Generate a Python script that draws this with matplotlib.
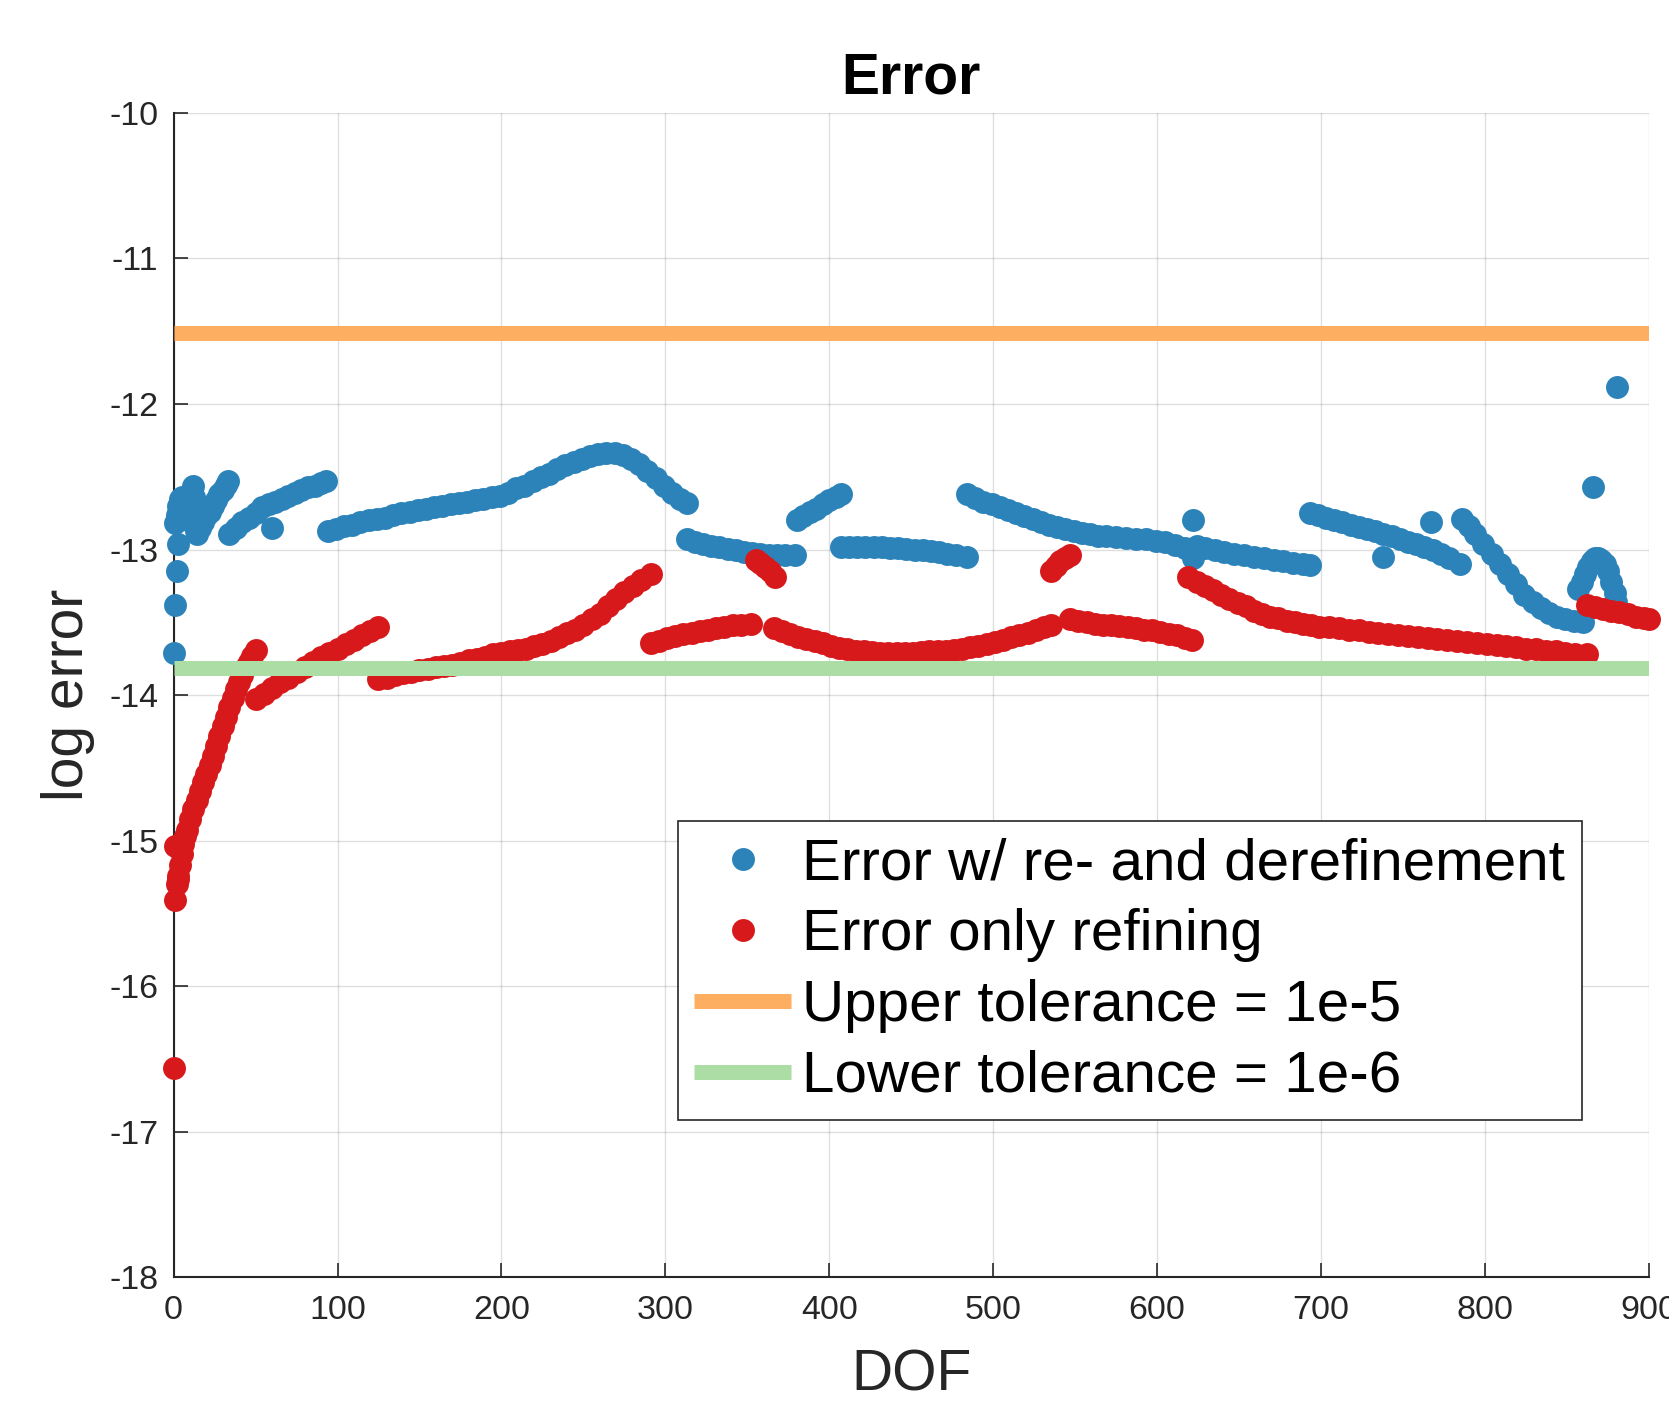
import matplotlib
matplotlib.use("Agg")
import matplotlib.pyplot as plt
import numpy as np

# ---------------- data ----------------
blue_dof = [0, 1, 2, 3,
            1, 2, 3, 4, 5, 6, 7, 8, 9, 10, 11, 12, 12.4, 12.8, 13.2, 13.6,
            14, 16, 18, 20, 22, 24, 26, 28, 30, 32, 33.5,
            34, 38, 42, 46, 50, 54, 58, 62, 66, 70, 74, 78, 82, 86, 90, 93,
            60,
            94, 99, 104, 109, 114, 119, 124, 129, 134, 139, 144, 149, 154, 159, 164, 169,
            174, 179, 184, 189, 194, 199, 204, 209, 214, 219, 224, 229, 234, 239, 244, 249,
            254, 259, 264, 269, 274, 279, 284, 289, 294, 299, 304, 309, 313,
            313, 318, 323, 328, 333, 338, 343, 348, 353, 358, 363, 368, 373, 379,
            380, 384, 388, 392, 396, 400, 404, 407,
            407, 412, 417, 422, 427, 432, 437, 442, 447, 452, 457, 462, 467, 472, 477, 484,
            484, 489, 494, 499, 504, 509, 514, 519, 524, 529, 534, 539, 544, 549, 554, 559,
            564, 569, 575, 581, 587, 593, 599, 605, 611, 617, 622,
            624, 629, 635, 641, 647, 653, 659, 665, 671, 677, 683, 689, 693,
            622, 622, 738, 767, 866, 880.5,
            693, 698, 703, 708, 713, 718, 723, 728, 733, 738, 743, 748, 753, 758, 763, 768,
            773, 778, 785,
            786, 790, 794, 799, 804, 809, 814, 819, 824, 829, 834, 839, 844, 849, 854, 860,
            857, 859, 861, 863, 865, 867, 869, 871, 873, 875, 877, 879, 880]
blue_err = [-13.71, -13.38, -13.15, -12.96,
            -12.82, -12.76, -12.70, -12.65, -12.64, -12.68, -12.73, -12.78, -12.80, -12.70,
            -12.60, -12.56, -12.64, -12.72, -12.80, -12.87,
            -12.89, -12.85, -12.81, -12.77, -12.74, -12.70, -12.66, -12.62, -12.59, -12.555, -12.53,
            -12.89, -12.85, -12.81, -12.78, -12.75, -12.71, -12.69, -12.67, -12.65, -12.63,
            -12.61, -12.59, -12.57, -12.56, -12.54, -12.53,
            -12.85,
            -12.87, -12.86, -12.84, -12.83, -12.81, -12.80, -12.79, -12.78, -12.76, -12.75,
            -12.74, -12.73, -12.72, -12.71, -12.70, -12.69, -12.68, -12.67, -12.66, -12.65,
            -12.64, -12.63, -12.61, -12.58, -12.56, -12.53, -12.50, -12.48, -12.45, -12.42,
            -12.40, -12.38, -12.36, -12.345, -12.335, -12.335, -12.35, -12.375, -12.41, -12.46,
            -12.51, -12.56, -12.61, -12.655, -12.68,
            -12.93, -12.945, -12.96, -12.975, -12.985, -12.995, -13.005, -13.015, -13.025,
            -13.03, -13.035, -13.035, -13.04, -13.04,
            -12.80, -12.77, -12.74, -12.72, -12.69, -12.66, -12.64, -12.62,
            -12.98, -12.98, -12.98, -12.98, -12.985, -12.985, -12.99, -12.99, -12.995, -13.00,
            -13.005, -13.01, -13.02, -13.03, -13.04, -13.05,
            -12.62, -12.645, -12.67, -12.69, -12.71, -12.73, -12.75, -12.77, -12.79, -12.81,
            -12.83, -12.845, -12.86, -12.87, -12.885, -12.895, -12.905, -12.91, -12.915, -12.92,
            -12.925, -12.93, -12.94, -12.95, -12.97, -12.99, -13.00,
            -12.975, -12.99, -13.005, -13.02, -13.03, -13.04, -13.05, -13.06, -13.07, -13.08,
            -13.09, -13.10, -13.105,
            -12.80, -13.06, -13.05, -12.81, -12.57, -11.88,
            -12.75, -12.765, -12.78, -12.795, -12.81, -12.83, -12.845, -12.86, -12.875, -12.89,
            -12.91, -12.93, -12.95, -12.965, -12.98, -13.00, -13.03, -13.06, -13.10,
            -12.79, -12.84, -12.89, -12.96, -13.03, -13.10, -13.17, -13.24, -13.31, -13.36,
            -13.40, -13.435, -13.46, -13.48, -13.49, -13.50,
            -13.27, -13.22, -13.17, -13.12, -13.08, -13.06, -13.06, -13.07, -13.10, -13.15,
            -13.22, -13.30, -13.36]

red_dof = [0, 1, 1, 3,
           2, 3, 4, 5, 6, 7, 8, 10, 12, 14, 16, 18, 20, 22, 24, 26, 28, 30, 32, 34, 36, 38,
           40, 42, 44, 46, 48, 50,
           50, 55, 60, 65, 70, 75, 80, 85, 90, 95, 100, 105, 110, 115, 120, 125,
           125, 130, 135, 140, 145, 150, 155, 160, 165, 170, 175, 180, 185, 190, 195, 200,
           205, 210, 215, 220, 225, 230, 235, 240, 245, 250, 255, 260, 265, 270, 275, 280,
           285, 291,
           291, 296, 301, 306, 311, 316, 321, 326, 331, 336, 341, 346, 352,
           355, 358, 361, 364, 367,
           366, 371, 376, 381, 386, 391, 396, 401, 406, 411, 416, 421, 426, 431, 436, 441,
           446, 451, 456, 461, 466, 471, 476, 481, 486, 491, 496, 501, 506, 511, 516, 521,
           526, 531, 535,
           535, 538, 541, 544, 547,
           547, 552, 557, 562, 567, 572, 577, 582, 587, 592, 597, 602, 607, 612, 617, 621,
           619, 624, 629, 634, 639, 644, 649, 654, 659, 664, 669, 674, 679, 684, 689, 694,
           699, 705, 711, 717, 723, 729, 735, 741, 747, 753, 759, 765, 771, 777, 783, 789,
           795, 801, 807, 813, 819, 825, 831, 837, 843, 849, 855, 862,
           862, 867, 872, 877, 882, 887, 892, 897, 900]
red_err = [-16.56, -15.41, -15.04, -15.26,
           -15.30, -15.24, -15.17, -15.09, -15.02, -14.97, -14.93, -14.85, -14.78, -14.72,
           -14.66, -14.60, -14.54, -14.48, -14.42, -14.35, -14.28, -14.21, -14.15, -14.08,
           -14.02, -13.96, -13.91, -13.86, -13.81, -13.77, -13.73, -13.69,
           -14.03, -13.99, -13.95, -13.91, -13.88, -13.84, -13.81, -13.77, -13.74, -13.71,
           -13.68, -13.65, -13.62, -13.59, -13.56, -13.53,
           -13.89, -13.88, -13.86, -13.85, -13.84, -13.83, -13.82, -13.81, -13.80, -13.79,
           -13.78, -13.76, -13.75, -13.74, -13.72, -13.71, -13.70, -13.69, -13.68, -13.665,
           -13.65, -13.625, -13.60, -13.575, -13.55, -13.52, -13.48, -13.44, -13.39, -13.34,
           -13.29, -13.25, -13.21, -13.17,
           -13.64, -13.625, -13.61, -13.595, -13.58, -13.57, -13.56, -13.55, -13.54, -13.53,
           -13.52, -13.515, -13.51,
           -13.07, -13.09, -13.12, -13.15, -13.19,
           -13.54, -13.56, -13.58, -13.60, -13.615, -13.63, -13.645, -13.66, -13.675, -13.685,
           -13.695, -13.70, -13.705, -13.71, -13.71, -13.71, -13.71, -13.71, -13.705, -13.70,
           -13.70, -13.695, -13.69, -13.68, -13.67, -13.66, -13.65, -13.635, -13.62, -13.60,
           -13.585, -13.57, -13.55, -13.535, -13.52,
           -13.15, -13.11, -13.08, -13.06, -13.04,
           -13.48, -13.49, -13.50, -13.51, -13.515, -13.52, -13.525, -13.53, -13.54, -13.55,
           -13.555, -13.565, -13.58, -13.59, -13.605, -13.62,
           -13.19, -13.22, -13.25, -13.28, -13.31, -13.34, -13.37, -13.39, -13.42, -13.44,
           -13.46, -13.47, -13.49, -13.50, -13.51, -13.52, -13.53, -13.535, -13.54, -13.55,
           -13.555, -13.565, -13.57, -13.58, -13.585, -13.595, -13.60, -13.61, -13.615, -13.62,
           -13.63, -13.635, -13.645, -13.65, -13.655, -13.665, -13.67, -13.68, -13.685, -13.695,
           -13.70, -13.71, -13.715, -13.72,
           -13.38, -13.395, -13.41, -13.42, -13.43, -13.445, -13.46, -13.47, -13.48]

upper_tol = 1e-5
lower_tol = 1e-6
x_range = [0, 900]
x_ticks = [0, 100, 200, 300, 400, 500, 600, 700, 800, 900]
y_ticks = [-18, -17, -16, -15, -14, -13, -12, -11, -10]
labels = ["Error w/ re- and derefinement", "Error only refining",
          "Upper tolerance = 1e-5", "Lower tolerance = 1e-6"]

# ---------------- style ----------------
BLUE = "#2b83ba"
RED = "#d7191c"
ORANGE = "#fdae61"
GREEN = "#abdda4"
DARK = "#262626"

plt.rcParams['font.family'] = ['Liberation Sans', 'DejaVu Sans']
plt.rcParams['axes.unicode_minus'] = False

fig = plt.figure(figsize=(16.69, 14.02), dpi=100)
ax = fig.add_axes([0.104, 0.0889, 0.884, 0.8306])

ax.plot(blue_dof, blue_err, 'o', color=BLUE, ms=16.5, mew=0, clip_on=False,
        zorder=3, label=labels[0])
ax.plot(red_dof, red_err, 'o', color=RED, ms=16.5, mew=0, clip_on=False,
        zorder=4, label=labels[1])
ax.plot(x_range, [np.log(upper_tol)] * 2, '-', color=ORANGE, lw=10.8,
        solid_capstyle='butt', zorder=5, label=labels[2])
ax.plot(x_range, [np.log(lower_tol)] * 2, '-', color=GREEN, lw=10.8,
        solid_capstyle='butt', zorder=5, label=labels[3])

ax.set_xlim(0, 900)
ax.set_ylim(-18, -10)
ax.set_xticks(x_ticks)
ax.set_yticks(y_ticks)
ax.grid(True, color=DARK, alpha=0.15, lw=1.0)
ax.set_axisbelow(True)

for s in ['top', 'right']:
    ax.spines[s].set_visible(False)
for s in ['left', 'bottom']:
    ax.spines[s].set_color(DARK)
    ax.spines[s].set_linewidth(1.5)

ax.tick_params(direction='in', length=10, width=1.2, color=DARK,
               labelsize=24.5, labelcolor=DARK)
ax.tick_params(axis='y', pad=11)
ax.tick_params(axis='x', pad=13)

ax.set_title("Error", fontsize=41, fontweight='bold', pad=14)
ax.set_xlabel("DOF", fontsize=41, color=DARK, labelpad=16)
ax.set_ylabel("log error", fontsize=41, color=DARK, labelpad=10)

leg = ax.legend(loc='upper left', bbox_to_anchor=(0.342, 0.392),
                borderaxespad=0, fontsize=42, frameon=True, fancybox=False,
                handlelength=1.65, handletextpad=0.2, labelspacing=0.29,
                borderpad=0.28, markerscale=1.0)
leg.get_frame().set_edgecolor(DARK)
leg.get_frame().set_linewidth(1.2)
leg.get_frame().set_alpha(1)

fig.savefig("out.png", dpi=100, facecolor='white')
